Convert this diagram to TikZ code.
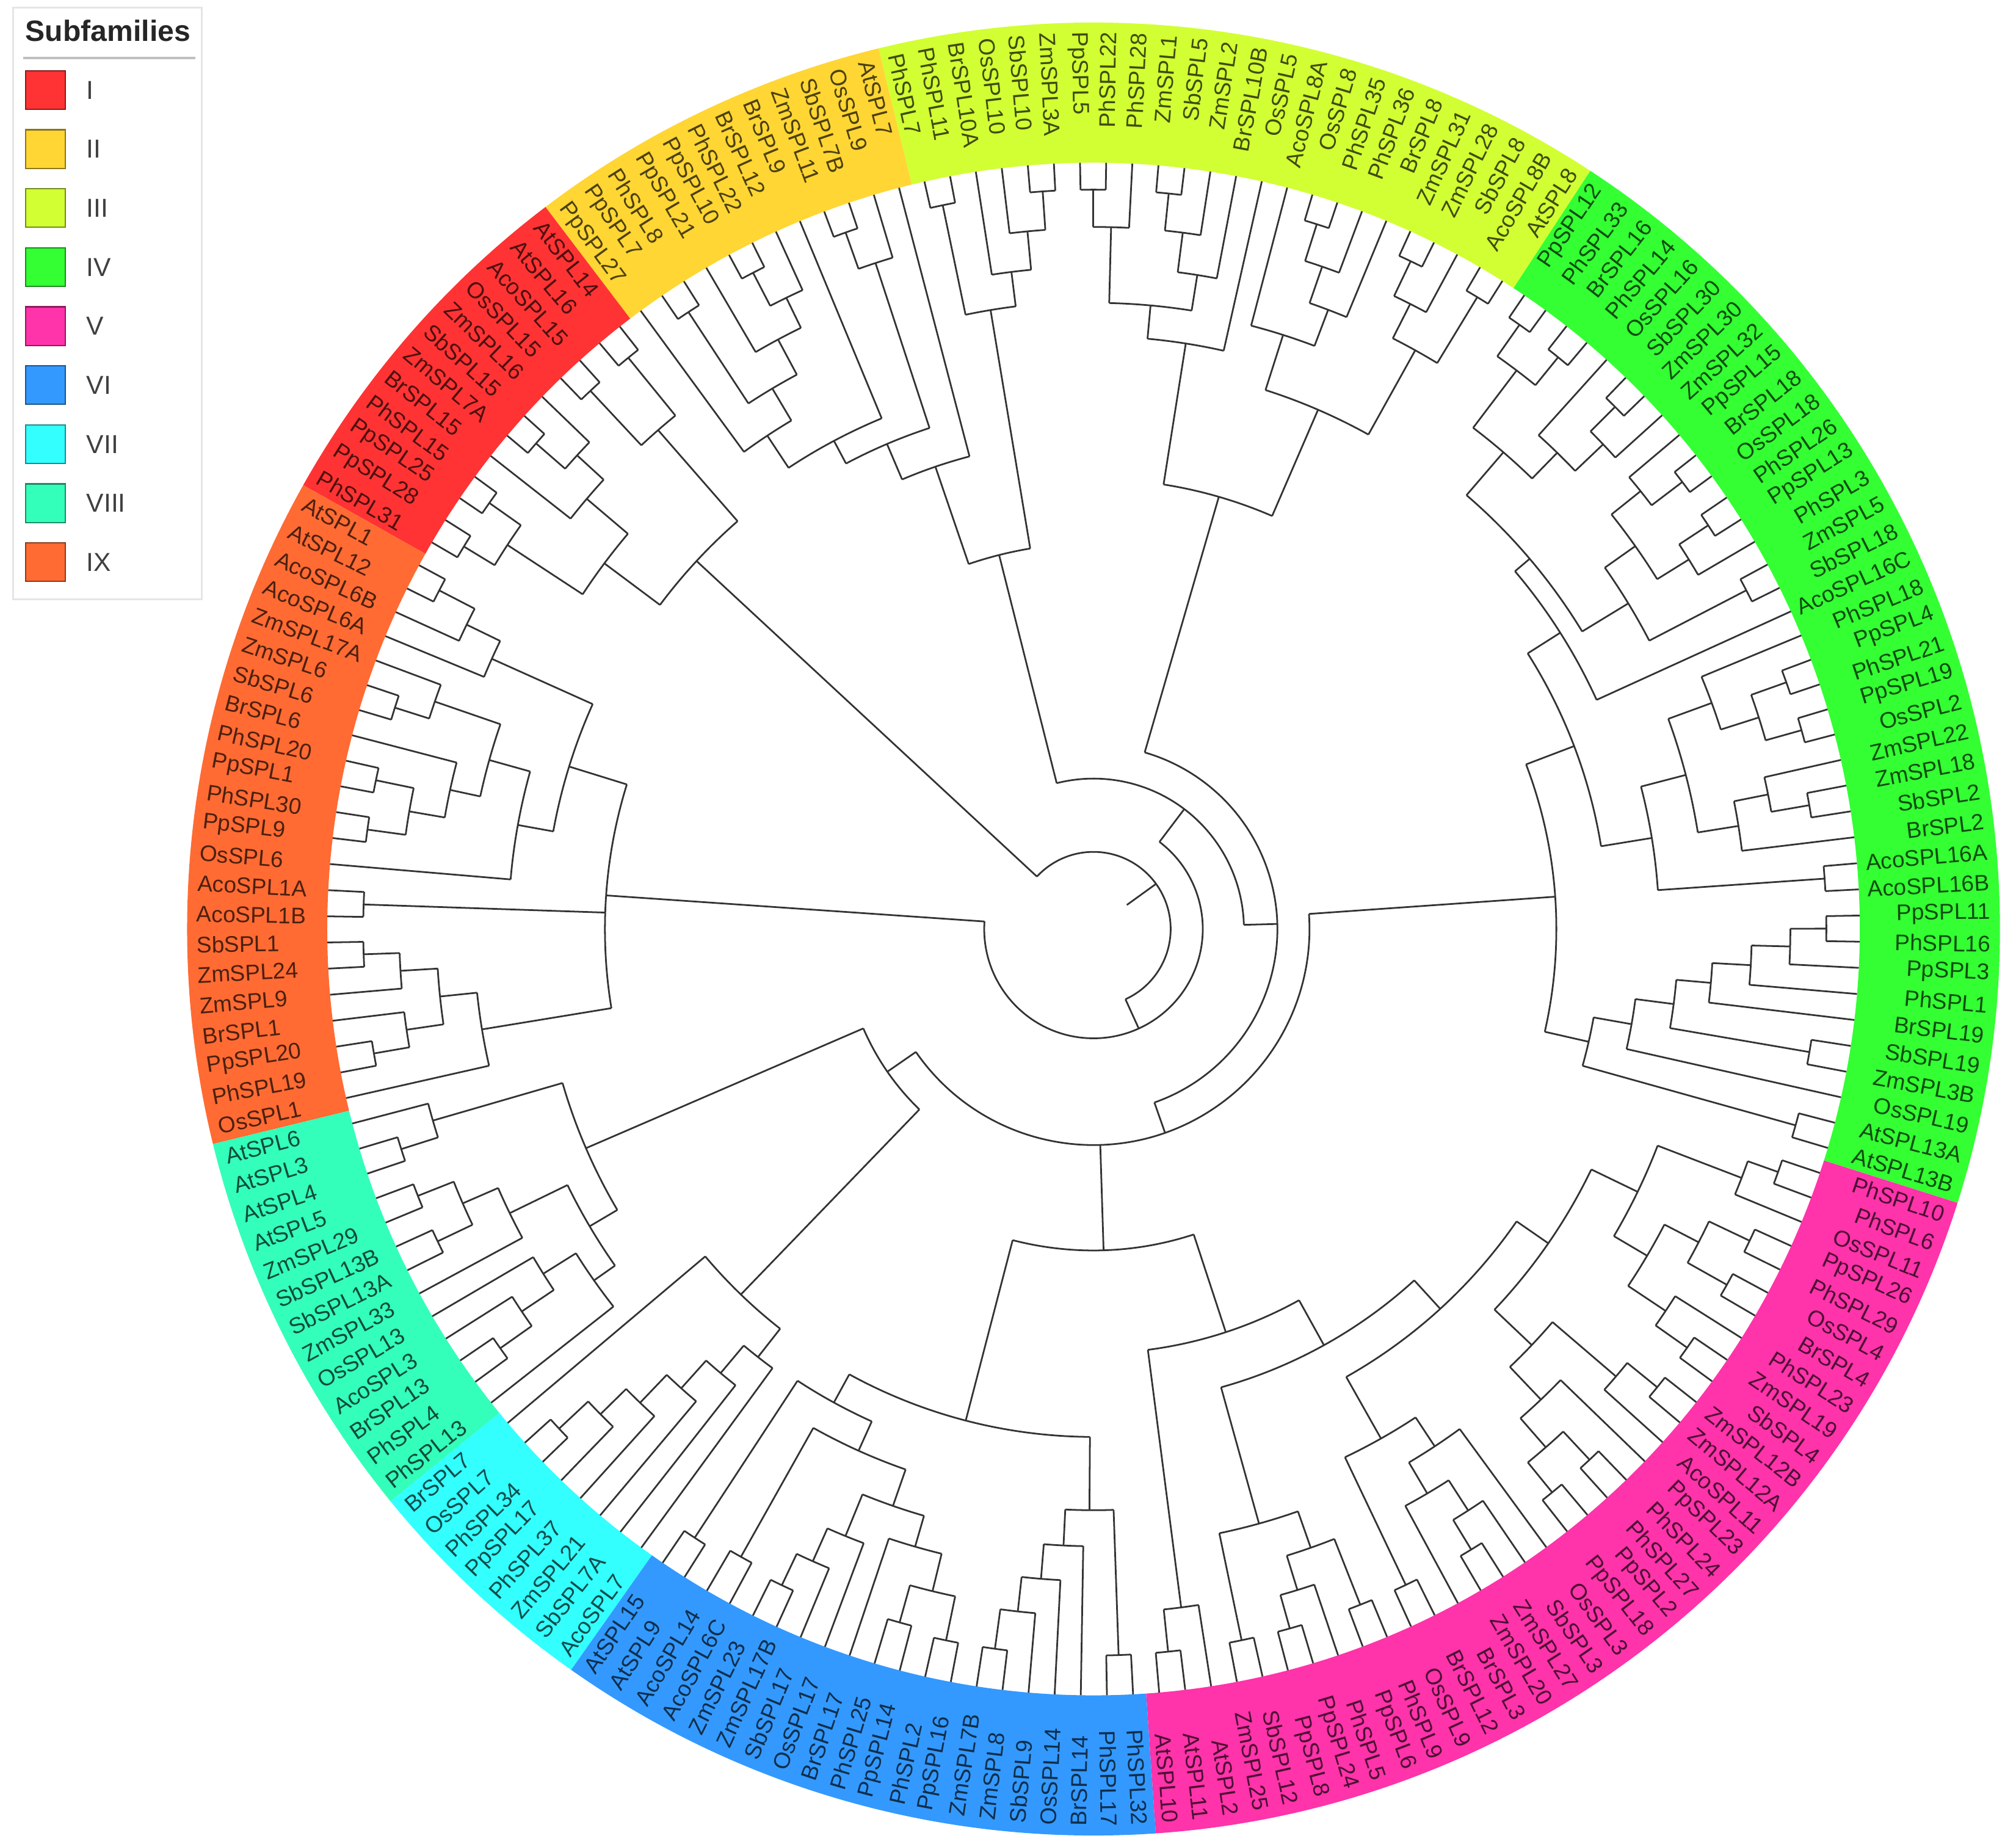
\documentclass[tikz,border=0pt]{standalone}
\usepackage{fontspec}
\setmainfont{Liberation Sans}
\definecolor{cI}{HTML}{FF3333}
\definecolor{cII}{HTML}{FFD633}
\definecolor{cIII}{HTML}{D2FF33}
\definecolor{cIV}{HTML}{33FF33}
\definecolor{cV}{HTML}{FF33AA}
\definecolor{cVI}{HTML}{3399FF}
\definecolor{cVII}{HTML}{33FFFF}
\definecolor{cVIII}{HTML}{33FFBB}
\definecolor{cIX}{HTML}{FF6B33}
\tikzset{
  tl/.style={draw=black!80, line width=0.75pt},
  lab/.style={font=\fontsize{10}{12}\selectfont, inner sep=0pt}
}
\newcommand\clade[3]{%
  \gdef\cfa{}%
  \foreach \cc in {#3}{%
    \xdef\cca{\csname a@\cc\endcsname}%
    \xdef\ccr{\csname r@\cc\endcsname}%
    \draw[tl] (\cca:#2) -- (\cca:\ccr);%
    \ifx\cfa\empty\xdef\cfa{\cca}\fi
    \xdef\cla{\cca}%
  }%
  \draw[tl] (\cfa:#2) arc[start angle=\cfa, end angle=\cla, radius=#2*0.02cm];%
  \pgfmathsetmacro\cmid{(\cfa+\cla)/2}%
  \expandafter\xdef\csname a@#1\endcsname{\cmid}%
  \expandafter\xdef\csname r@#1\endcsname{#2}%
}
\newcommand\leafgroup[3]{%
  \foreach \nm [count=\k from #2] in {#3}{%
    \pgfmathsetmacro\ang{-16.6+1.9565*\k+ifthenelse(\k<86,360,0)}%
    \expandafter\xdef\csname a@\k\endcsname{\ang}%
    \expandafter\xdef\csname r@\k\endcsname{596}%
    \pgfmathsetmacro\cs{cos(\ang)}%
    \ifdim\cs pt<0pt
      \pgfmathsetmacro\rot{\ang+180}%
      \node[lab,text=#1!30!black,anchor=west,rotate=\rot] (L\k) at (\ang:698) {\nm};%
    \else
      \node[lab,text=#1!30!black,anchor=east,rotate=\ang] (L\k) at (\ang:698) {\nm};%
    \fi
  }%
}
\newcommand\ringseg[3]{%
  \pgfmathsetmacro\sa{-16.6+1.9565*#2+ifthenelse(#2<86,360,0)-0.97825}%
  \pgfmathsetmacro\ea{-16.6+1.9565*#3+ifthenelse(#3<86,360,0)+0.97825}%
  \fill[#1] (\sa:596) arc[start angle=\sa,end angle=\ea,radius=596*0.02cm] -- (\ea:705) arc[start angle=\ea,end angle=\sa,radius=705*0.02cm] -- cycle;%
}
\begin{document}
\begin{tikzpicture}[x=0.02cm,y=0.02cm]
\fill[white] (-850.5,-711.5) rectangle (717.5,722.5);
\useasboundingbox (-850.5,-711.5) rectangle (717.5,722.5);
% colour ring
\ringseg{cIV}{0}{37}
\ringseg{cIII}{38}{61}
\ringseg{cII}{62}{73}
\ringseg{cI}{74}{85}
\ringseg{cIX}{86}{107}
\ringseg{cVIII}{108}{120}
\ringseg{cVII}{121}{128}
\ringseg{cVI}{129}{148}
\ringseg{cV}{149}{183}
% leaf labels
\leafgroup{cIV}{0}{AtSPL13B,AtSPL13A,OsSPL19,ZmSPL3B,SbSPL19,BrSPL19,PhSPL1,PpSPL3,PhSPL16,PpSPL11,AcoSPL16B,AcoSPL16A,BrSPL2,SbSPL2,ZmSPL18,ZmSPL22,OsSPL2,PpSPL19,PhSPL21,PpSPL4,PhSPL18,AcoSPL16C,SbSPL18,ZmSPL5,PhSPL3,PpSPL13,PhSPL26,OsSPL18,BrSPL18,PpSPL15,ZmSPL32,ZmSPL30,SbSPL30,OsSPL16,PhSPL14,BrSPL16,PhSPL33,PpSPL12}
\leafgroup{cIII}{38}{AtSPL8,AcoSPL8B,SbSPL8,ZmSPL28,ZmSPL31,BrSPL8,PhSPL36,PhSPL35,OsSPL8,AcoSPL8A,OsSPL5,BrSPL10B,ZmSPL2,SbSPL5,ZmSPL1,PhSPL28,PhSPL22,PpSPL5,ZmSPL3A,SbSPL10,OsSPL10,BrSPL10A,PhSPL11,PhSPL7}
\leafgroup{cII}{62}{AtSPL7,OsSPL9,SbSPL7B,ZmSPL11,BrSPL9,BrSPL12,PhSPL22,PpSPL10,PpSPL21,PhSPL8,PpSPL7,PpSPL27}
\leafgroup{cI}{74}{AtSPL14,AtSPL16,AcoSPL15,OsSPL15,ZmSPL16,SbSPL15,ZmSPL7A,BrSPL15,PhSPL15,PpSPL25,PpSPL28,PhSPL31}
\leafgroup{cIX}{86}{AtSPL1,AtSPL12,AcoSPL6B,AcoSPL6A,ZmSPL17A,ZmSPL6,SbSPL6,BrSPL6,PhSPL20,PpSPL1,PhSPL30,PpSPL9,OsSPL6,AcoSPL1A,AcoSPL1B,SbSPL1,ZmSPL24,ZmSPL9,BrSPL1,PpSPL20,PhSPL19,OsSPL1}
\leafgroup{cVIII}{108}{AtSPL6,AtSPL3,AtSPL4,AtSPL5,ZmSPL29,SbSPL13B,SbSPL13A,ZmSPL33,OsSPL13,AcoSPL3,BrSPL13,PhSPL4,PhSPL13}
\leafgroup{cVII}{121}{BrSPL7,OsSPL7,PhSPL34,PpSPL17,PhSPL37,ZmSPL21,SbSPL7A,AcoSPL7}
\leafgroup{cVI}{129}{AtSPL15,AtSPL9,AcoSPL14,AcoSPL6C,ZmSPL23,ZmSPL17B,SbSPL17,OsSPL17,BrSPL17,PhSPL25,PpSPL14,PhSPL2,PpSPL16,ZmSPL7B,ZmSPL8,SbSPL9,OsSPL14,BrSPL14,PhSPL17,PhSPL32}
\leafgroup{cV}{149}{AtSPL10,AtSPL11,AtSPL2,ZmSPL25,SbSPL12,PpSPL8,PpSPL24,PhSPL5,PpSPL6,PhSPL9,OsSPL9,BrSPL12,BrSPL3,ZmSPL20,ZmSPL27,SbSPL3,OsSPL3,PpSPL18,PpSPL2,PhSPL27,PhSPL24,PpSPL23,AcoSPL11,ZmSPL12A,ZmSPL12B,SbSPL4,ZmSPL19,PhSPL23,BrSPL4,OsSPL4,PhSPL29,PpSPL26,OsSPL11,PhSPL6,PhSPL10}
% ---- tree: subfamily IV
\clade{a1}{570}{8,9}
\clade{a2}{542}{7,a1}
\clade{a3}{512}{6,a2}
\clade{a4}{482}{5,a3}
\clade{a5}{565}{3,4}
\clade{a6}{455}{a5,a4}
\clade{a7}{425}{2,a6}
\clade{a8}{567}{0,1}
\clade{Xlow}{395}{a8,a7}
\clade{b1}{570}{10,11}
\clade{l1}{565}{13,14}
\clade{l2}{535}{l1,15}
\clade{l3}{508}{12,l2}
\clade{q1}{572}{16,17}
\clade{q2}{572}{18,19}
\clade{qq}{543}{q1,q2}
\clade{qr}{512}{qq,20}
\clade{l4}{476}{l3,qr}
\clade{Ylow}{440}{b1,l4}
\clade{u1}{572}{22,23}
\clade{u2a}{572}{25,26}
\clade{u2}{545}{24,u2a}
\clade{u3a}{575}{27,28}
\clade{u3}{545}{u3a,29}
\clade{u4}{516}{u2,u3}
\clade{u5}{487}{u1,u4}
\clade{u6a}{574}{31,32}
\clade{u6b}{547}{30,u6a}
\clade{u6}{517}{u6b,33}
\clade{u7a}{573}{34,35}
\clade{u7b}{575}{36,37}
\clade{u7}{545}{u7a,u7b}
\clade{u8}{489}{u6,u7}
\clade{u9}{445}{u5,u8}
\clade{u10}{430}{21,u9}
\clade{Y}{400}{Ylow,u10}
\clade{IV}{360}{Xlow,Y}
% ---- III
\clade{x1}{575}{38,39}
\clade{x2}{575}{41,42}
\clade{x2b}{545}{40,x2}
\clade{x3}{515}{x1,x2b}
\clade{y1}{575}{45,46}
\clade{y2}{545}{44,y1}
\clade{y3}{515}{43,y2}
\clade{y4}{485}{y3,47}
\clade{RIII}{440}{x3,y4}
\clade{m2a}{575}{51,52}
\clade{m2b}{546}{50,m2a}
\clade{m2}{515}{49,m2b}
\clade{m1a}{575}{54,55}
\clade{m1}{546}{53,m1a}
\clade{m3}{487}{m2,m1}
\clade{m4}{461}{48,m3}
\clade{G}{350}{RIII,m4}
\clade{t1}{575}{56,57}
\clade{t2}{545}{t1,58}
\clade{t3}{515}{t2,59}
\clade{t4}{575}{60,61}
\clade{LIII}{488}{t3,t4}
% ---- II
\clade{h1}{575}{64,65}
\clade{h9}{545}{63,h1}
\clade{h2}{575}{68,69}
\clade{h3}{546}{67,h2}
\clade{h4}{520}{h3,70}
\clade{h5}{574}{71,72}
\clade{h6}{489}{h4,h5}
\clade{h7}{460}{h6,73}
\clade{h8}{430}{66,h7}
\clade{h10}{410}{h9,h8}
\clade{II}{380}{62,h10}
\clade{E}{300}{LIII,II}
% ---- I
\clade{i1}{573}{74,75}
\clade{i2}{573}{76,77}
\clade{i3}{515}{i1,i2}
\clade{i4}{575}{79,80}
\clade{i5}{545}{78,i4}
\clade{i6}{517}{i5,81}
\clade{i7}{575}{82,83}
\clade{i8}{573}{84,85}
\clade{i9}{545}{i7,i8}
\clade{i10}{475}{i6,i9}
\clade{I}{421}{i3,i10}
% ---- IX
\clade{k0a}{573}{86,87}
\clade{k0b}{542}{k0a,88}
\clade{k0}{513}{k0b,89}
\clade{k5a}{570}{91,92}
\clade{k5b}{542}{90,k5a}
\clade{k1}{570}{94,95}
\clade{k2}{570}{96,97}
\clade{k3}{540}{k1,k2}
\clade{k4}{512}{93,k3}
\clade{k5}{488}{k5b,k4}
\clade{k6}{455}{k5,98}
\clade{k7}{427}{k0,k6}
\clade{p1}{568}{99,100}
\clade{z1}{568}{101,102}
\clade{z2}{540}{z1,103}
\clade{z3}{568}{105,106}
\clade{z4}{540}{104,z3}
\clade{z5}{511}{z2,z4}
\clade{z6}{482}{z5,107}
\clade{IX}{380}{k7,p1,z6}
% ---- VIII
\clade{v1}{565}{109,110}
\clade{v2}{535}{108,v1}
\clade{v3}{565}{111,112}
\clade{v4}{565}{113,114}
\clade{v5}{535}{v3,v4}
\clade{v6}{505}{v5,115}
\clade{v7}{565}{118,119}
\clade{v8}{535}{117,v7}
\clade{v9}{505}{116,v8}
\clade{v10}{475}{v9,120}
\clade{v11}{455}{v6,v10}
\clade{VIII}{430}{v2,v11}
% ---- VII
\clade{w1}{569}{122,123}
\clade{w2}{538}{w1,124}
\clade{w3}{510}{w2,125}
\clade{w4}{480}{w3,126}
\clade{w5}{451}{w4,127}
\clade{w6}{423}{w5,128}
\clade{VII}{395}{121,w6}
\clade{J}{195}{VIII,VII}
% ---- VI
\clade{s1}{565}{142,143}
\clade{s2}{534}{s1,144}
\clade{s3}{507}{s2,145}
\clade{s4}{480}{s3,146}
\clade{s5}{565}{147,148}
\clade{VIa}{452}{s4,s5}
\clade{bb1}{566}{129,130}
\clade{bb6}{560}{131,132}
\clade{c1}{560}{138,139}
\clade{c2}{565}{140,141}
\clade{c3}{530}{c1,c2}
\clade{c4}{500}{137,c3}
\clade{bb2}{565}{133,134}
\clade{bb3}{538}{bb2,135}
\clade{bb4}{510}{bb3,136}
\clade{bb5}{475}{bb4,c4}
\clade{bb7}{445}{bb6,bb5}
\clade{VIb}{420}{bb1,bb7}
\clade{VI}{395}{VIb,VIa}
% ---- V
\clade{V1}{565}{149,150}
\clade{V2}{532}{V1,151}
\clade{g1}{565}{152,153}
\clade{g2}{565}{154,155}
\clade{g3}{538}{g2,156}
\clade{g5}{565}{157,158}
\clade{g4}{510}{g3,g5}
\clade{g6}{480}{g1,g4}
\clade{g7}{565}{159,160}
\clade{g8}{565}{162,163}
\clade{g9}{538}{g8,164}
\clade{g10}{510}{161,g9}
\clade{g11}{482}{g10,165}
\clade{g12}{455}{g7,g11}
\clade{g13}{565}{166,167}
\clade{g14}{565}{168,169}
\clade{g15}{535}{g13,g14}
\clade{g16}{505}{g15,170}
\clade{g17}{565}{172,173}
\clade{g18}{535}{171,g17}
\clade{g19}{470}{g16,g18}
\clade{e6}{565}{174,175}
\clade{e7}{535}{e6,176}
\clade{e4}{565}{177,178}
\clade{e3}{565}{179,180}
\clade{e5}{530}{e4,e3}
\clade{e8}{500}{e7,e5}
\clade{e1}{565}{182,183}
\clade{e2}{540}{181,e1}
\clade{e9}{470}{e8,e2}
\clade{g20}{430}{g19,e9}
\clade{g21}{400}{g12,g20}
\clade{g22}{370}{g6,g21}
\clade{V}{330}{V2,g22}
\clade{X}{250}{VI,V}
% ---- deep structure
\clade{P}{168}{J,X,IV}
\clade{F}{143}{P,G}
\clade{nC}{117}{F,E}
\clade{B}{85}{IX,nC}
\clade{root}{60}{B,I}
\pgfmathsetmacro\rta{\csname a@root\endcsname}
\draw[tl] (\rta:32) -- (\rta:60);
% ---- legend
\draw[black!10, line width=0.8pt] (-840.5,256.5) rectangle (-693.5,716.5);
\node[font=\fontsize{13}{15}\selectfont\bfseries, text=black!85, inner sep=0pt] (lgT) at (-766.5,698.5) {Subfamilies};
\draw[black!25, line width=1pt] (-832.5,677.5) -- (-698.5,677.5);
\foreach \cl/\tx [count=\j from 0] in {cI/I,cII/II,cIII/III,cIV/IV,cV/V,cVI/VI,cVII/VII,cVIII/VIII,cIX/IX}{
  \pgfmathsetmacro\yy{652.5-45.9*\j}
  \draw[fill=\cl, draw=\cl!55!black, line width=0.6pt] (-830.5,\yy-15) rectangle (-799.5,\yy+15);
  \node[anchor=west, font=\fontsize{11.5}{13}\selectfont, text=black!75, inner sep=0pt] (lg\j) at (-783.5,\yy) {\tx};
}
\end{tikzpicture}
\end{document}
